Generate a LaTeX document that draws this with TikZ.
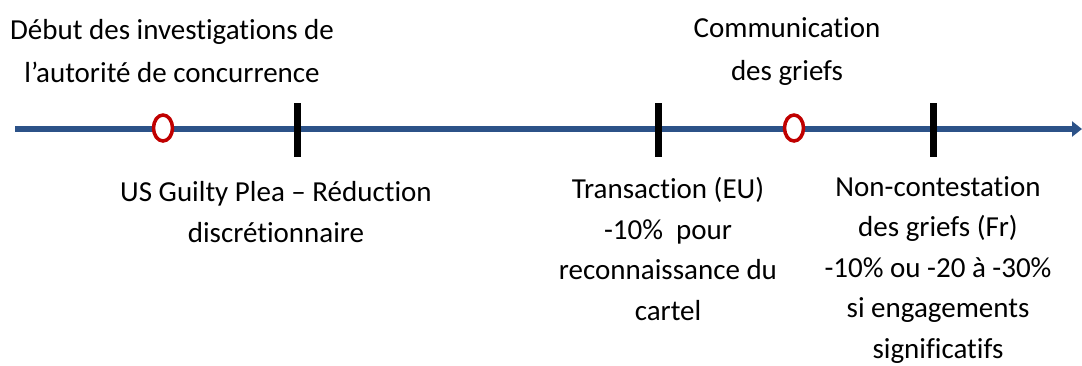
\documentclass[tikz,border=0pt]{standalone}
\usepackage{fontspec}
\setmainfont[Ligatures={NoCommon}]{Carlito}
\usetikzlibrary{arrows.meta,shapes.geometric}
\definecolor{axisblue}{RGB}{44,82,136}
\definecolor{markred}{RGB}{192,0,0}
\begin{document}
\begin{tikzpicture}[x=1pt,y=-1pt,
   every node/.style={font=\fontsize{29}{40.5}\selectfont, align=center, inner sep=0pt},
   axis/.style={draw=axisblue, line width=5.5pt, -{Triangle[length=10pt,width=15pt]}},
   event/.style={ellipse, draw=markred, line width=3.5pt, fill=white,
                 minimum width=19pt, minimum height=26pt},
   tick/.style={rectangle, fill=black, minimum width=7pt, minimum height=54pt},
   lbl/.style={anchor=base},
   toplbl/.style={anchor=base, font=\fontsize{29}{42.5}\selectfont}]
\useasboundingbox (0,0) rectangle (1082,365);

% axe du temps
\coordinate (start) at (15,129);
\coordinate (end) at (1082,129);
\draw[axis] (start) -- (end);

% jalons
\node[event] (debut) at (163,128) {};
\node[event] (comm) at (794,128) {};
\node[tick] (plea) at (297,130) {};
\node[tick] (transac) at (658,130) {};
\node[tick] (noncontest) at (933,130) {};

% textes (ancre = ligne de base de la derniere ligne)
\node[toplbl] (debuttxt) at (172,82) {Début des investigations de\\l’autorité de concurrence};
\node[toplbl] (commtxt) at (787,80) {Communication\\des griefs};
\node[lbl] (pleatxt) at (276,242) {US Guilty Plea – Réduction\\discrétionnaire};
\node[lbl] (transactxt) at (668,320) {Transaction (EU)\\-10\%\ \ pour\\reconnaissance du\\cartel};
\node[lbl] (noncontesttxt) at (938,358) {Non-contestation\\des griefs (Fr)\\-10\% ou -20 à -30\%\\si engagements\\significatifs};
\end{tikzpicture}
\end{document}
